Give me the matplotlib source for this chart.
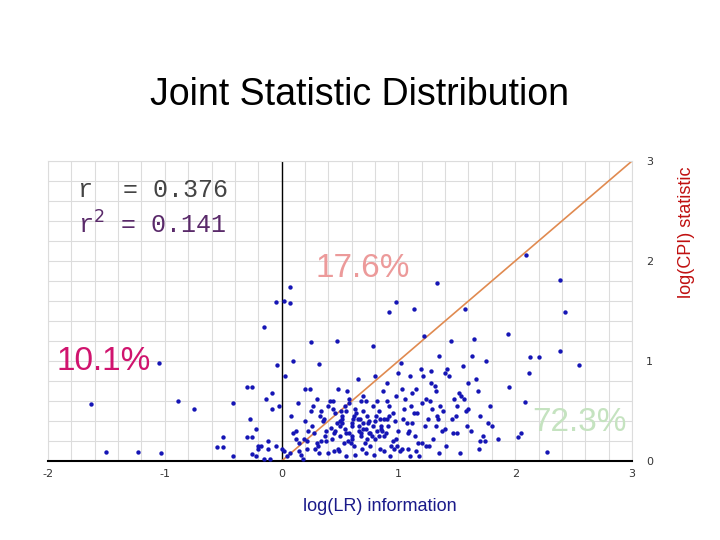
import numpy as np
import matplotlib
matplotlib.use('Agg')
import matplotlib.pyplot as plt
from matplotlib.ticker import MultipleLocator
plt.rcParams['axes.unicode_minus'] = False

# outlying points
outer_x = [-1.63, -1.5, -1.23, -1.03, -1.05, -0.89, -0.75, -0.55, -0.5, -0.5, -0.42, -0.42, -0.3, -0.25,
           -0.3, -0.25, -0.27, -0.25, -0.22, -0.2, -0.15, -0.13, -0.08, -0.1, -0.05, -0.04, 0.02, 0.07,
           0.07, 0.1, 0.03, 0.25, 0.47, 0.32, 1.33, 0.98, 0.92, 1.13, 2.09, 2.38, 2.43, 1.57, 1.94, 2.38,
           2.55, 2.13, 2.2, 2.12, 1.95, 2.08, 2.27, 2.02, 2.05, 1.85, 1.35, 1.53, -0.18, -0.12, -0.05, -0.15,
           -0.2, -0.08, -0.02, 0.0, -0.22, -0.12]
outer_y = [0.57, 0.09, 0.09, 0.08, 0.98, 0.6, 0.52, 0.14, 0.24, 0.14, 0.05, 0.58, 0.74, 0.74,
           0.24, 0.24, 0.42, 0.07, 0.32, 0.12, 1.34, 0.62, 0.68, 0.02, 1.59, 0.96, 1.6, 1.58,
           1.74, 1.0, 0.85, 1.19, 1.2, 0.97, 1.78, 1.59, 1.49, 1.52, 2.06, 1.81, 1.49, 1.52, 1.27, 1.1,
           0.96, 1.04, 1.04, 0.88, 0.74, 0.59, 0.09, 0.24, 0.28, 0.22, 0.08, 0.08, 0.15, 0.12, 0.15, 0.02,
           0.15, 0.52, 0.55, 0.12, 0.05, 0.2]

# dense cluster
core_x = [0.05, 0.08, 0.12, 0.15, 0.18, 0.2, 0.22, 0.25, 0.28, 0.3, 0.32, 0.35, 0.38, 0.4, 0.42, 0.45,
          0.48, 0.5, 0.52, 0.55, 0.58, 0.6, 0.62, 0.65, 0.68, 0.7, 0.72, 0.75, 0.78, 0.8, 0.82, 0.85,
          0.88, 0.9, 0.92, 0.95, 0.98, 1.0, 1.02, 1.05, 1.08, 1.1, 1.12, 1.15, 1.18, 1.2, 1.22, 1.25,
          1.28, 1.3, 1.32, 1.35, 1.38, 1.4, 1.45, 1.48, 1.5, 1.55, 1.6, 1.65, 1.7, 1.75, 1.8,
          0.1, 0.14, 0.2, 0.24, 0.3, 0.34, 0.38, 0.44, 0.48, 0.52, 0.56, 0.6, 0.64, 0.68, 0.72, 0.76,
          0.8, 0.84, 0.88, 0.92, 0.96, 1.0, 1.04, 1.08, 1.12, 1.16, 1.2, 1.24, 1.28, 1.32, 1.36, 1.42,
          1.46, 1.52, 1.58, 1.62, 1.68, 1.72, 1.78,
          0.22, 0.26, 0.33, 0.37, 0.41, 0.46, 0.5, 0.54, 0.57, 0.61, 0.66, 0.7, 0.74, 0.78, 0.83, 0.87,
          0.91, 0.95, 0.99, 1.03, 1.07, 1.11, 1.14, 1.19, 1.23, 1.27, 1.31, 1.37, 1.43, 1.49, 1.56,
          1.63, 1.7, 1.77,
          0.15, 0.19, 0.27, 0.31, 0.36, 0.43, 0.47, 0.51, 0.55, 0.59, 0.63, 0.67, 0.71, 0.77, 0.81, 0.86,
          0.9, 0.94, 0.97, 1.01, 1.06, 1.09, 1.13, 1.17, 1.21, 1.26, 1.29, 1.34, 1.4, 1.47, 1.54, 1.6,
          1.66, 1.74,
          0.02, 0.07, 0.12, 0.17, 0.23, 0.29, 0.34, 0.4, 0.45, 0.49, 0.53, 0.58, 0.63, 0.69, 0.73, 0.79,
          0.84, 0.89, 0.93, 0.98, 1.03, 1.1, 1.15, 1.24, 1.33, 1.41, 1.5, 1.59, 1.69,
          0.46, 0.5, 0.54, 0.6, 0.65, 0.7, 0.75, 0.8, 0.85, 0.9, 0.55, 0.62, 0.68, 0.73, 0.78, 0.83,
          0.44, 0.52, 0.58, 0.66, 0.72, 0.82, 0.88, 0.6, 0.7, 0.76]
core_y = [0.05, 0.45, 0.3, 0.18, 0.02, 0.72, 0.12, 0.5, 0.28, 0.62, 0.08, 0.4, 0.2, 0.55, 0.33, 0.1,
          0.72, 0.25, 0.45, 0.05, 0.62, 0.35, 0.15, 0.82, 0.28, 0.5, 0.08, 0.4, 1.15, 0.22, 0.6, 0.35,
          0.1, 0.78, 0.45, 0.2, 0.65, 0.3, 0.98, 0.52, 0.12, 0.85, 0.38, 0.72, 0.05, 0.58, 1.25, 0.42,
          0.9, 0.22, 0.7, 1.05, 0.5, 0.32, 1.2, 0.62, 0.28, 0.95, 0.78, 1.22, 0.45, 1.0, 0.35,
          0.28, 0.58, 0.4, 0.72, 0.18, 0.5, 0.3, 0.6, 0.12, 0.38, 0.7, 0.22, 0.48, 0.6, 0.32, 0.15,
          0.85, 0.42, 0.25, 0.55, 0.12, 0.88, 0.42, 0.28, 0.68, 0.48, 0.18, 0.62, 0.78, 0.35, 0.55, 0.92,
          0.42, 0.68, 0.5, 0.3, 0.7, 0.25, 0.55,
          0.2, 0.35, 0.45, 0.25, 0.6, 0.48, 0.35, 0.55, 0.2, 0.42, 0.3, 0.65, 0.38, 0.55, 0.25, 0.7,
          0.35, 0.48, 0.15, 0.72, 0.38, 0.55, 0.25, 0.92, 0.35, 0.6, 0.75, 0.3, 0.85, 0.45, 0.62,
          1.05, 0.2, 0.38,
          0.1, 0.22, 0.55, 0.15, 0.42, 0.22, 0.38, 0.5, 0.28, 0.18, 0.52, 0.42, 0.18, 0.25, 0.45, 0.3,
          0.6, 0.15, 0.4, 0.1, 0.62, 0.3, 0.48, 0.18, 0.85, 0.15, 0.52, 0.42, 0.88, 0.28, 0.65, 0.52,
          0.82, 0.2,
          0.1, 0.08, 0.22, 0.06, 0.3, 0.12, 0.2, 0.08, 0.28, 0.1, 0.18, 0.28, 0.06, 0.12, 0.22, 0.06,
          0.12, 0.28, 0.05, 0.22, 0.12, 0.05, 0.1, 0.15, 0.45, 0.15, 0.55, 0.35, 0.12,
          0.3, 0.4, 0.32, 0.38, 0.42, 0.38, 0.28, 0.4, 0.32, 0.42, 0.5, 0.45, 0.25, 0.45, 0.35, 0.5,
          0.52, 0.42, 0.58, 0.35, 0.6, 0.3, 0.42, 0.25, 0.32, 0.28]

x = np.array(outer_x + core_x)
y = np.array(outer_y + core_y)

fig = plt.figure(figsize=(7.2, 5.4), dpi=100)
fig.text(0.5, 0.824, 'Joint Statistic Distribution', ha='center', va='center', fontsize=27,
         family='Liberation Sans')

ax = fig.add_axes([0.0667, 0.1463, 0.8111, 0.5556])
ax.set_xlim(-2, 3)
ax.set_ylim(0, 3)
ax.xaxis.set_major_locator(MultipleLocator(1))
ax.xaxis.set_minor_locator(MultipleLocator(0.2))
ax.yaxis.set_major_locator(MultipleLocator(1))
ax.yaxis.set_minor_locator(MultipleLocator(0.2))
ax.grid(True, which='both', color='#dcdcdc', lw=0.8)
ax.set_axisbelow(True)
for s in ax.spines.values():
    s.set_color('#dcdcdc')
ax.spines['bottom'].set_color('black')
ax.spines['bottom'].set_linewidth(1.5)
ax.axvline(0, color='black', lw=1)
ax.yaxis.tick_right()
ax.tick_params(which='both', length=0, labelsize=8, colors='#333333')
ax.tick_params(axis='x', pad=6)
ax.tick_params(axis='y', pad=10)

ax.plot([0, 3], [0, 3], color='#e08a50', lw=1.2, zorder=2)
ax.scatter(x, y, s=10, color='#1515b5', zorder=3, linewidths=0)

ax.text(0.051, 0.903, 'r  = 0.376', transform=ax.transAxes, fontsize=18, color='#444444',
        family='Liberation Mono', va='center')
ax.text(0.051, 0.787, 'r$^2$ = 0.141', transform=ax.transAxes, fontsize=18, color='#5a2a6a',
        family='Liberation Mono', va='center')
ax.text(0.539, 0.643, '17.6%', transform=ax.transAxes, fontsize=24, color='#ec9a9a',
        family='Liberation Sans', ha='center', va='center')
ax.text(0.015, 0.33, '10.1%', transform=ax.transAxes, fontsize=24, color='#d0146e',
        family='Liberation Sans', va='center')
ax.text(0.91, 0.127, '72.3%', transform=ax.transAxes, fontsize=24, color='#c5e3c0',
        family='Liberation Sans', ha='center', va='center')

fig.text(0.527, 0.062, 'log(LR) information', ha='center', va='center', fontsize=13,
         color='#1a1a8a', family='Liberation Sans')
fig.text(0.953, 0.57, 'log(CPI) statistic', ha='center', va='center', rotation=90, fontsize=13,
         color='#c01010', family='Liberation Sans')

fig.savefig('out.png', dpi=100)
